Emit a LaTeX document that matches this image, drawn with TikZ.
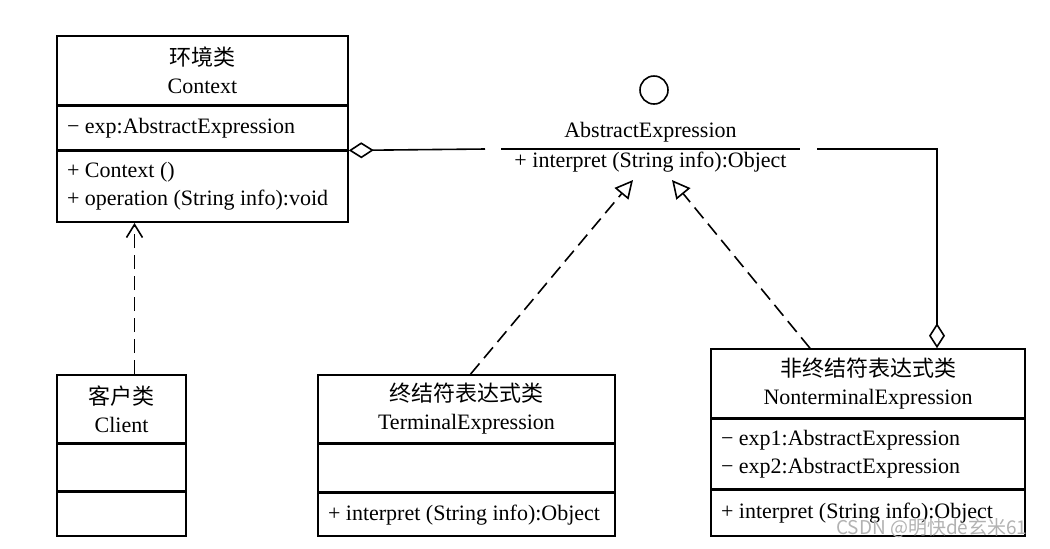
\documentclass[tikz,border=0pt]{standalone}
\usepackage{fontspec}
\setmainfont{Liberation Serif}
\newfontfamily\cjk{Noto Sans CJK SC}
\usetikzlibrary{positioning,arrows.meta,calc}

\tikzset{
	umlhead/.style={rectangle, draw, align=center, inner sep=0pt, minimum width=#1},
	umlpart/.style={rectangle, draw, align=flush left, inner xsep=5pt, inner ysep=0pt, text width=#1},
	aggr/.style={{Diamond[open,length=12.5pt,width=8pt]}-},
	realize/.style={dash pattern=on 7pt off 3.5pt, -{Triangle[open,length=9pt,width=9pt]}},
	depend/.style={dash pattern=on 7pt off 3.5pt, -{Straight Barb[length=6.5pt,width=8pt]}}
}

\begin{document}
\begin{tikzpicture}[x=0.5pt, y=-0.5pt, line width=0.8pt, font=\fontsize{11}{14}\selectfont, node distance=0pt]
	\useasboundingbox (0,0) rectangle (1050,548);
	% Context
	\node (ctxhead) [umlhead=145.5pt, minimum height=34.5pt] at (202.5,70.5) {{\cjk 环境类}\\Context};
	\node (ctxattr) [umlpart=135.5pt, minimum height=21.5pt, below=of ctxhead] {− exp:AbstractExpression};
	\node (ctxops) [umlpart=135.5pt, minimum height=35.5pt, below=of ctxattr] {+ Context ()\\+ operation (String info):void};
	% Client
	\node (clihead) [umlhead=64.5pt, minimum height=34pt] at (121.5,409) {{\cjk 客户类}\\Client};
	\node (cliattr) [umlpart=54.5pt, minimum height=23pt, below=of clihead] {};
	\node (cliops) [umlpart=54.5pt, minimum height=22pt, below=of cliattr] {};
	% TerminalExpression
	\node (termhead) [umlhead=148.5pt, minimum height=34pt] at (466.5,409) {{\cjk 终结符表达式类}\\TerminalExpression};
	\node (termattr) [umlpart=138.5pt, minimum height=23.5pt, below=of termhead] {};
	\node (termops) [umlpart=138.5pt, minimum height=21.5pt, below=of termattr] {+ interpret (String info):Object};
	% NonterminalExpression
	\node (nonthead) [umlhead=157pt, minimum height=34.5pt] at (868,383.5) {{\cjk 非终结符表达式类}\\NonterminalExpression};
	\node (nontattr) [umlpart=147pt, minimum height=34.5pt, below=of nonthead] {− exp1:AbstractExpression\\− exp2:AbstractExpression};
	\node (nontops) [umlpart=147pt, minimum height=23pt, below=of nontattr] {+ interpret (String info):Object};
	% AbstractExpression (interface)
	\node (absicon) [circle, draw, minimum size=14pt, inner sep=0pt] at (654,90) {};
	\node (absname) [minimum width=148.5pt, minimum height=16pt, inner sep=0pt, anchor=south] at (650.5,149) {AbstractExpression};
	\draw (absname.south west) -- (absname.south east);
	\node (absops) [below=1pt of absname, inner sep=0pt] {+ interpret (String info):Object};
	% connectors
	\coordinate (absleft) at (485,149);
	\coordinate (absright) at (817,149);
	\coordinate (realleft) at (633,180);
	\coordinate (realright) at (672,180);
	\coordinate (clitop) at ([xshift=6.5pt]clihead.north);
	\draw [aggr] (ctxattr.south east) -- (absleft);
	\draw [aggr] ([xshift=34.5pt]nonthead.north) |- (absright);
	\draw [realize] ([xshift=2pt]termhead.north) -- (realleft);
	\draw [realize] ([xshift=-29pt]nonthead.north) -- (realright);
	\draw [depend] (clitop) -- (clitop |- ctxops.south);
	% watermark
	\node (mark) [text=gray!60, font=\fontsize{9.5}{11}\selectfont\cjk, anchor=east] at (1035,528) {CSDN @明快de玄米61};
\end{tikzpicture}
\end{document}
